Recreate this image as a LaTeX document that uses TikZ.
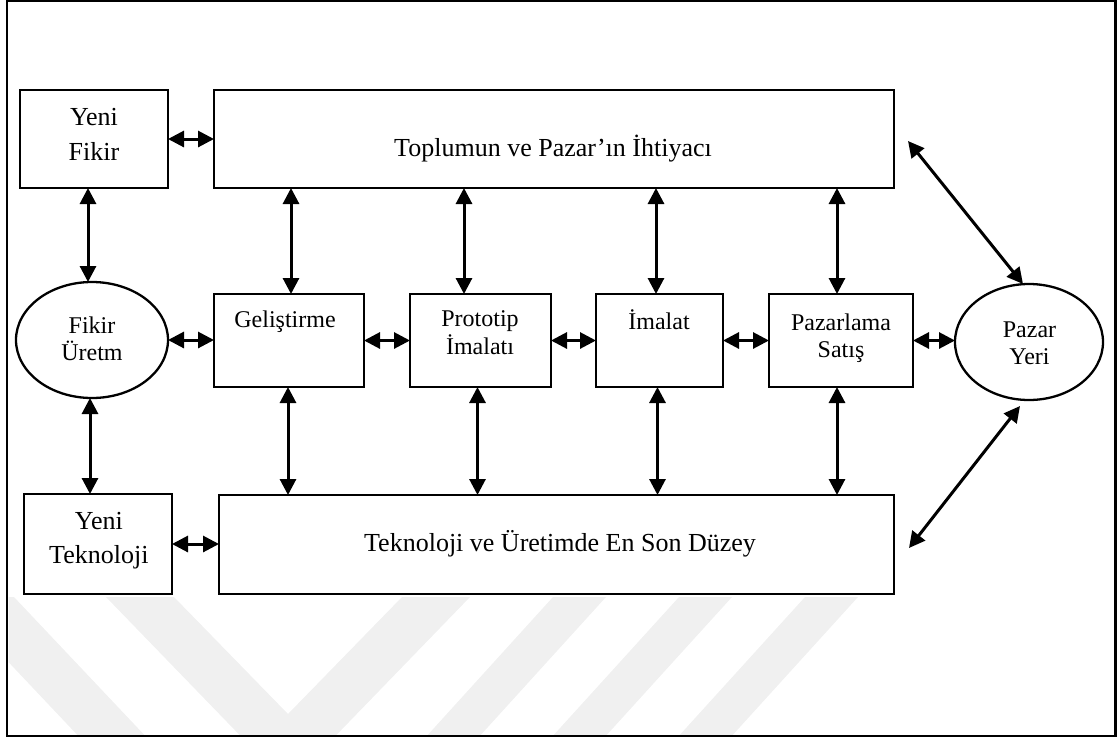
\documentclass[tikz,border=0pt]{standalone}
\usepackage{fontspec}
\setmainfont{Liberation Serif}
\usetikzlibrary{arrows.meta,calc,shapes.geometric}
\begin{document}
\begin{tikzpicture}[x=1pt,y=-1pt,
  box/.style={draw,line width=2.3pt,rectangle,inner sep=0pt,outer sep=0pt},
  oval/.style={draw,line width=2.3pt,ellipse,inner sep=0pt,outer sep=0pt},
  big/.style={font=\fontsize{26}{30}\selectfont,inner sep=0pt,anchor=base},
  mid/.style={font=\fontsize{24}{28}\selectfont,inner sep=0pt,anchor=base},
  dar/.style={line width=3pt,{Triangle[length=16pt,width=16pt]}-{Triangle[length=16pt,width=16pt]}},
  wm/.style={fill=black!6,draw=none}]
\useasboundingbox (0,0) rectangle (1120,740);
% watermark
\begin{scope}
\clip (8.5,596) rectangle (1114.5,734.5);
\fill[wm] (-53,597) -- (14,597) -- (168,760) -- (101,760) -- cycle;
\fill[wm] (106,597) -- (174,597) -- (288,714) -- (402,597) -- (470,597) -- (288,785) -- cycle;
\fill[wm] (553,597) -- (606,597) -- (458,760) -- (405,760) -- cycle;
\fill[wm] (679,597) -- (732,597) -- (584,760) -- (531,760) -- cycle;
\fill[wm] (805,597) -- (858,597) -- (710,760) -- (657,760) -- cycle;
\end{scope}
% frame
\draw[line width=2.5pt] (7,1.2) rectangle (1115.5,736);
% boxes
\node[box,minimum width=148pt,minimum height=98pt] (yf) at (94,139) {};
\node[box,minimum width=680pt,minimum height=98pt] (top) at (554,139) {};
\node[oval,minimum width=152pt,minimum height=116pt] (fu) at (92,340) {};
\node[box,minimum width=150pt,minimum height=93pt] (gel) at (289,340.5) {};
\node[box,minimum width=141pt,minimum height=93pt] (prot) at (480.5,340.5) {};
\node[box,minimum width=127pt,minimum height=93pt] (ima) at (659.5,340.5) {};
\node[box,minimum width=144pt,minimum height=93pt] (paz) at (841,340.5) {};
\node[oval,minimum width=148pt,minimum height=116pt] (py) at (1029,342) {};
\node[box,minimum width=148pt,minimum height=100pt] (yt) at (98,544) {};
\node[box,minimum width=675pt,minimum height=99pt] (tek) at (556.5,544.5) {};
% labels
\node[big] (yfa) at (94,125) {Yeni};
\node[big] (yfb) at (94,160) {Fikir};
\node[big] (topl) at (553,156) {Toplumun ve Pazar’ın İhtiyacı};
\node[mid] (fua) at (92,333) {Fikir};
\node[mid] (fub) at (92,360) {Üretm};
\node[mid] (gell) at (285,327) {Geliştirme};
\node[mid] (prota) at (480,326) {Prototip};
\node[mid] (protb) at (480,354) {İmalatı};
\node[mid] (imal) at (659,329) {İmalat};
\node[mid] (paza) at (841,330) {Pazarlama};
\node[mid] (pazb) at (841,357) {Satış};
\node[mid] (pya) at (1029.5,337) {Pazar};
\node[mid] (pyb) at (1029.5,364) {Yeri};
\node[big] (yta) at (98.8,529) {Yeni};
\node[big] (ytb) at (98.8,563) {Teknoloji};
\node[big] (tekl) at (560,551) {Teknoloji ve Üretimde En Son Düzey};
% horizontal connectors
\draw[dar] (yf.east) -- (yf.east -| top.west);
\draw[dar] (fu.east) -- (fu.east -| gel.west);
\draw[dar] (gel.east) -- (prot.west);
\draw[dar] (prot.east) -- (ima.west);
\draw[dar] (ima.east) -- (paz.west);
\draw[dar] (paz.east) -- (paz.east -| py.west);
\draw[dar] (yt.east) -- (yt.east -| tek.west);
% vertical connectors
\draw[dar] ([xshift=-6pt]yf.south) -- ([xshift=-4pt]fu.north);
\draw[dar] ([xshift=-2pt]fu.south) -- ([xshift=-8pt]yt.north);
\draw[dar] ([xshift=2pt]gel.north |- top.south) -- ([xshift=2pt]gel.north);
\draw[dar] ([xshift=-16.5pt]prot.north |- top.south) -- ([xshift=-16.5pt]prot.north);
\draw[dar] ([xshift=-3.5pt]ima.north |- top.south) -- ([xshift=-3.5pt]ima.north);
\draw[dar] ([xshift=-4pt]paz.north |- top.south) -- ([xshift=-4pt]paz.north);
\draw[dar] ([xshift=-1pt]gel.south) -- ([xshift=-1pt]gel.south |- tek.north);
\draw[dar] ([xshift=-3pt]prot.south) -- ([xshift=-3pt]prot.south |- tek.north);
\draw[dar] ([xshift=-2pt]ima.south) -- ([xshift=-2pt]ima.south |- tek.north);
\draw[dar] ([xshift=-4pt]paz.south) -- ([xshift=-4pt]paz.south |- tek.north);
% diagonal connectors
\draw[dar] ([xshift=14pt,yshift=-2pt]top.east) -- ([xshift=-6pt]py.north);
\draw[dar] ([xshift=-9pt,yshift=-6pt]py.south) -- ([xshift=15pt,yshift=-3.5pt]tek.east);
\end{tikzpicture}
\end{document}
